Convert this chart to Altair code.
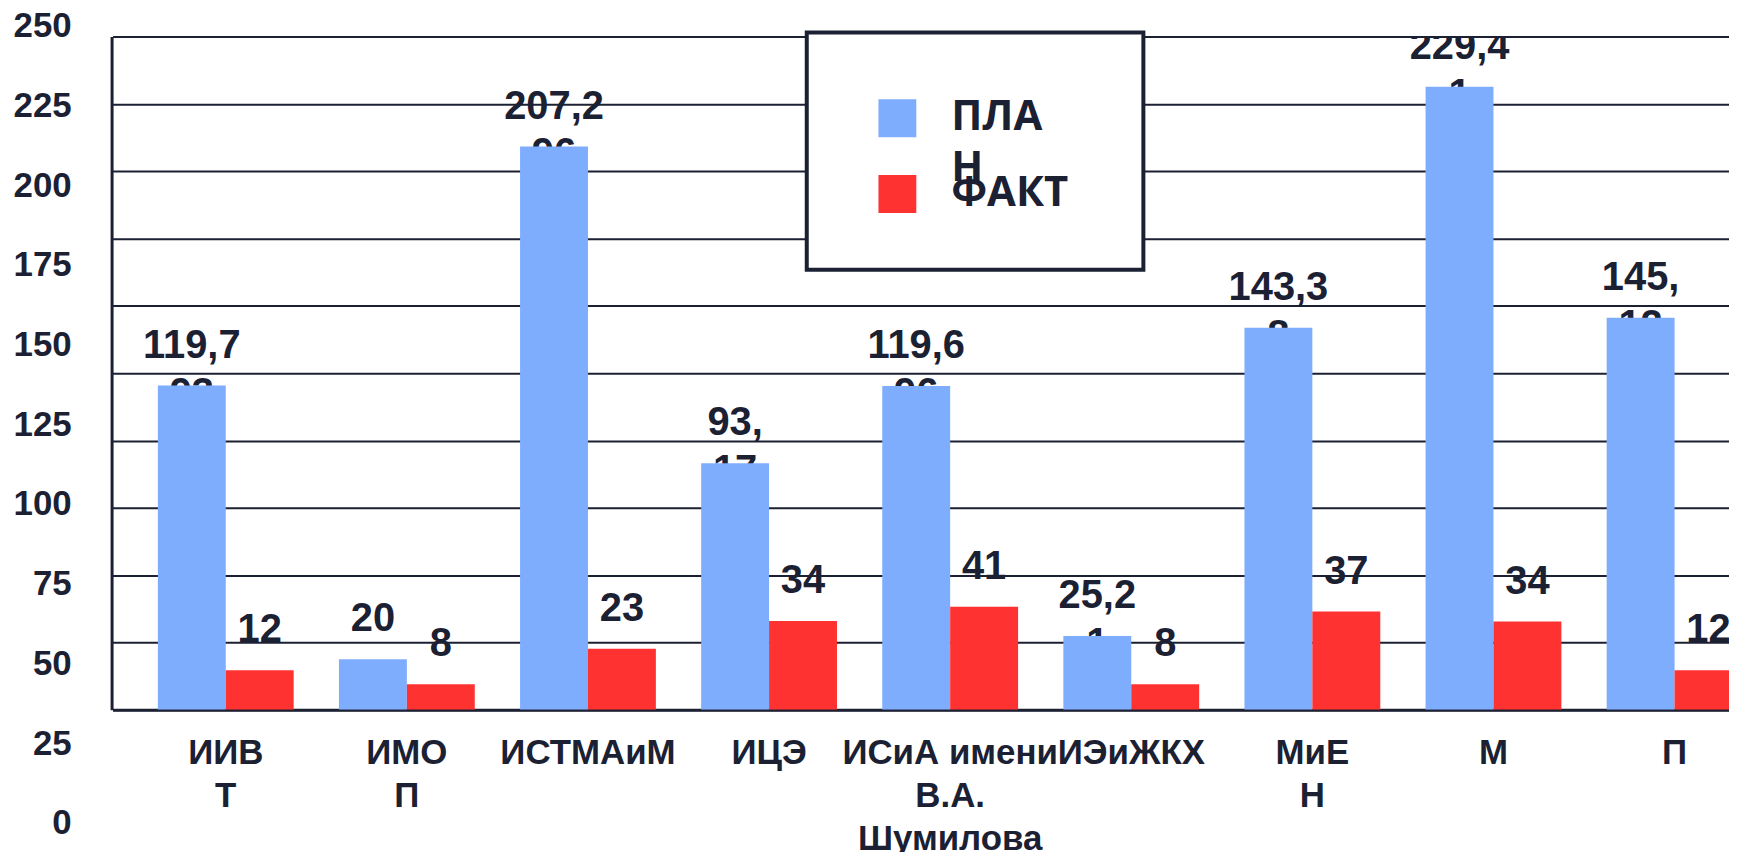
import altair as alt
import pandas as pd

# ---- data ----
categories = ["ИИВТ", "ИМОП", "ИСТМАиМ", "ИЦЭ", "ИСиА имени В.А. Шумилова",
              "ИЭиЖКХ", "МиЕН", "М", "П"]
category_lines = [["ИИВ", "Т"], ["ИМО", "П"], ["ИСТМАиМ"], ["ИЦЭ"],
                  ["ИСиА имени", "В.А.", "Шумилова"], ["ИЭиЖКХ"], ["МиЕ", "Н"],
                  ["М"], ["П"]]
series = ["ПЛАН", "ФАКТ"]
plan_values = [120.4, 18.8, 209.2, 91.6, 120.3, 27.4, 141.9, 231.4, 145.6]
fact_values = [14.7, 9.5, 22.7, 33.0, 38.3, 9.5, 36.5, 32.8, 14.7]
plan_labels = [["119,7", "93"], ["20"], ["207,2", "96"], ["93,", "17"],
               ["119,6", "96"], ["25,2", "1"], ["143,3", "8"], ["229,4", "1"],
               ["145,", "12"]]
fact_labels = [["12"], ["8"], ["23"], ["34"], ["41"], ["8"], ["37"], ["34"], ["12"]]
y_tick_values = [0, 25, 50, 75, 100, 125, 150, 175, 200, 225, 250]
legend_lines = [["ПЛА", "Н"], ["ФАКТ"]]
colors = ["#7FADFD", "#FF3232"]
dark = "#1B2133"

# ---- tables ----
rows = []
for i, c in enumerate(categories):
    cat = "\n".join(category_lines[i])
    rows.append({"cat": cat, "series": series[0], "value": plan_values[i],
                 "label": "\n".join(plan_labels[i])})
    rows.append({"cat": cat, "series": series[1], "value": fact_values[i],
                 "label": "\n".join(fact_labels[i])})
df = pd.DataFrame(rows)
cat_order = ["\n".join(l) for l in category_lines]

ydf = pd.DataFrame({"v": y_tick_values, "t": [str(v) for v in y_tick_values]})
one = pd.DataFrame({"k": [0]})

x_axis = alt.Axis(title=None, labelExpr="split(datum.label, '\\n')",
                  labelAngle=0, labelAlign="center",
                  labelFont="Liberation Sans", labelFontWeight="bold",
                  labelFontSize=35, labelLineHeight=43, labelColor=dark,
                  labelPadding=26, ticks=False, tickSize=0, labelLimit=1000,
                  labelOverlap=False, labelBound=False, labelFlush=False,
                  labelBaseline="top",
                  domain=True, domainColor=dark, domainWidth=3)
x_enc = alt.X("cat:N", sort=cat_order, axis=x_axis,
              scale=alt.Scale(range=[1, 1683], paddingInner=0.25, paddingOuter=0.25))
xoff = alt.XOffset("series:N", sort=series,
                   scale=alt.Scale(domain=series, paddingInner=0, paddingOuter=0))
y_scale = alt.Scale(domain=[0, 250], nice=False, zero=True)

bars = alt.Chart(df).mark_bar(clip=True).encode(
    x=x_enc,
    xOffset=xoff,
    y=alt.Y("value:Q", scale=y_scale,
            axis=alt.Axis(title=None, values=y_tick_values, labels=False,
                          ticks=False, grid=True, gridColor=dark, gridWidth=2,
                          gridOpacity=1, domain=True, domainColor=dark,
                          domainWidth=3)),
    color=alt.Color("series:N", scale=alt.Scale(domain=series, range=colors),
                    legend=None),
)

value_labels = alt.Chart(df).transform_calculate(
    lines="split(datum.label, '\\n')"
).mark_text(font="Liberation Sans", fontWeight="bold", fontSize=40,
            lineHeight=48, color=dark, align="center", baseline="alphabetic",
            dy=-28, clip=True).encode(
    x=x_enc,
    xOffset=xoff,
    y=alt.Y("value:Q", scale=y_scale, axis=None),
    text="lines:N",
)

y_labels = alt.Chart(ydf).mark_text(
    font="Liberation Sans", fontWeight="bold", fontSize=35, color=dark,
    align="right", baseline="middle").encode(
    x=alt.value(-40),
    y=alt.Y("v:Q", scale=alt.Scale(domain=[35.6, 246.72], nice=False, zero=False),
            axis=None),
    text="t:N",
)

legend_box = alt.Chart(one).mark_rect(fill="white", stroke=dark, strokeWidth=4).encode(
    x=alt.value(698), x2=alt.value(1036), y=alt.value(-4), y2=alt.value(234))
legend_sq1 = alt.Chart(one).mark_rect(color=colors[0]).encode(
    x=alt.value(770), x2=alt.value(808), y=alt.value(63), y2=alt.value(101))
legend_sq2 = alt.Chart(one).mark_rect(color=colors[1]).encode(
    x=alt.value(770), x2=alt.value(808), y=alt.value(139), y2=alt.value(177))
legend_t1 = alt.Chart(one).mark_text(
    font="Open Sans", fontWeight="bold", fontSize=42, lineHeight=51,
    color=dark, align="left", baseline="alphabetic").encode(
    x=alt.value(843), y=alt.value(94), text=alt.value(legend_lines[0]))
legend_t2 = alt.Chart(one).mark_text(
    font="Open Sans", fontWeight="bold", fontSize=42, lineHeight=51,
    color=dark, align="left", baseline="alphabetic").encode(
    x=alt.value(843), y=alt.value(170), text=alt.value(legend_lines[1]))

chart = alt.layer(
    y_labels, value_labels, bars, legend_box, legend_sq1, legend_sq2,
    legend_t1, legend_t2
).resolve_scale(y="independent").properties(
    width=1624, height=676,
    autosize=alt.AutoSizeParams(type="none"),
    padding={"left": 104, "top": 27, "right": 0, "bottom": 141},
    background="white",
).configure_view(stroke=None)

chart.save("out.html", embed_options={"renderer": "svg", "actions": False})
